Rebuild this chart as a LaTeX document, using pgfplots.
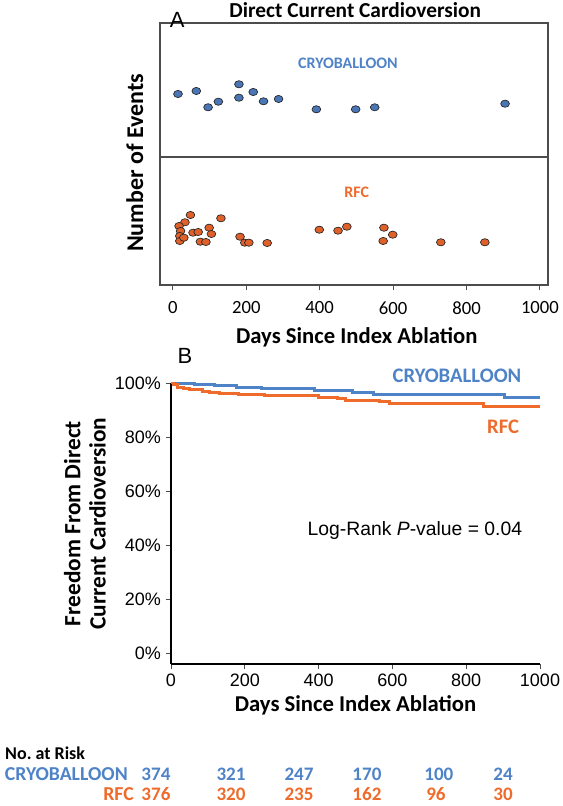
\documentclass[border=0pt]{standalone}
\usepackage{pgfplots}
\pgfplotsset{compat=1.18}
\usepackage{fontspec}
\setmainfont{Carlito}
\newfontfamily\arial{Liberation Sans}
\definecolor{cryo}{HTML}{4F83C8}
\definecolor{rfc}{HTML}{EE6B2C}
\definecolor{cryofill}{HTML}{4A76B6}
\definecolor{rfcfill}{HTML}{E0602A}
\tikzset{rc/.style={font=\bfseries\fontsize{14.3}{16}\selectfont, text=cryo, inner sep=0pt},
         rr/.style={font=\bfseries\fontsize{14.3}{16}\selectfont, text=rfc, inner sep=0pt}}
\begin{document}
\begin{tikzpicture}
\useasboundingbox (0,0) rectangle (422.25pt,604.5pt);
% ---------- Panel A ----------
\begin{axis}[
  at={(120pt,390.75pt)}, anchor=south west,
  scale only axis, width=291pt, height=196.5pt,
  xmin=-35, xmax=1022, ymin=0, ymax=262,
  axis line style={draw=black!70, line width=0.9pt},
  xtick={0,200,...,1000}, ytick=\empty,
  xtick pos=bottom, tick align=outside,
  major tick length=4pt,
  tick style={draw=black!70, line width=0.8pt},
  /pgf/number format/assume math mode=true,
  /pgf/number format/1000 sep={},
  xticklabel style={font=\fontsize{14}{16}\selectfont, yshift=-5pt},
  clip=false,
]
\draw[black!70, line width=0.9pt] (axis cs:-35,128) -- (axis cs:1022,128);
\addplot[only marks, mark=*, mark size=3pt,
  mark options={fill=cryofill, draw=black!85, line width=0.5pt, xscale=1.1, yscale=0.9}]
coordinates {
(14,191) (64,194) (96,177.7) (124,183.3) (180,200.7) (180,187.3) (219,193)
(247,183.7) (288,186) (391,175.7) (498,175.7) (550,177.7) (905,181.3)
};
\addplot[only marks, mark=*, mark size=3pt,
  mark options={fill=rfcfill, draw=black!85, line width=0.5pt, xscale=1.1, yscale=0.9}]
coordinates {
(48,70) (33,62.7) (131,66.7) (17,59) (21,54) (19,49) (19,44) (30,47.3)
(55,52.3) (69,53) (99,57.3) (105,51) (75,43.3) (90,43) (183,48.3)
(196,42.3) (207,42.3) (257,42) (399,55.3) (450,54.3) (474,58.3)
(575,57.3) (573,44) (599,50.3) (730,42.7) (850,42.7)
};
\node[font=\bfseries\fontsize{12}{14}\selectfont, text=cryo] at (axis cs:477,222) {CRYOBALLOON};
\node[font=\bfseries\fontsize{12}{14}\selectfont, text=rfc] at (axis cs:501,93) {RFC};
\node[font=\bfseries\fontsize{16}{18}\selectfont, inner sep=0pt] at (axis cs:497,275) {Direct Current Cardioversion};
\node[font=\arial\fontsize{16.5}{18}\selectfont] at (axis cs:12,265) {A};
\node[font=\bfseries\fontsize{17}{19}\selectfont, inner sep=0pt] at (axis cs:501,-52) {Days Since Index Ablation};
\node[font=\bfseries\fontsize{18}{20}\selectfont, inner sep=0pt, rotate=90] at (axis cs:-103.5,122) {Number of Events};
\end{axis}
% ---------- Panel B ----------
\begin{axis}[
  at={(128.25pt,106.5pt)}, anchor=south west,
  scale only axis, width=276.75pt, height=210.75pt,
  xmin=0, xmax=1000, ymin=-4, ymax=100,
  axis x line=bottom, axis y line=left,
  axis line style={-, line width=1.1pt, black},
  xtick={0,200,...,1000}, ytick={0,20,...,100},
  yticklabel={\pgfmathprintnumber{\tick}\%},
  tick align=outside, major tick length=4pt,
  tick style={line width=0.6pt, black!70},
  /pgf/number format/assume math mode=true,
  /pgf/number format/1000 sep={},
  ticklabel style={font=\arial\fontsize{13.5}{15}\selectfont},
  xlabel={Days Since Index Ablation},
  xlabel style={font=\bfseries\fontsize{17}{19}\selectfont},
  ylabel={Freedom From Direct\\Current Cardioversion},
  ylabel style={font=\bfseries\fontsize{17.5}{19}\selectfont, align=center},
  clip=false,
]
\addplot[const plot, draw=cryo, line width=2.2pt] coordinates {
(0,100) (14,99.8) (64,99.5) (118,99.0) (177,98.5) (245,97.8) (389,97.3)
(493,96.5) (548,95.9) (903,94.7) (1000,94.7)
};
\addplot[const plot, draw=rfc, line width=2.2pt] coordinates {
(0,100) (8,99.3) (18,98.5) (33,98.0) (49,97.5) (85,96.9) (105,96.4)
(131,96.1) (183,95.8) (254,95.2) (399,94.7) (450,94.1) (474,93.6)
(565,93.1) (592,92.4) (846,91.3) (1000,91.3)
};
\node[font=\bfseries\fontsize{15.5}{17}\selectfont, text=cryo] at (axis cs:775,102.6) {CRYOBALLOON};
\node[font=\bfseries\fontsize{15.5}{17}\selectfont, text=rfc] at (axis cs:900,83.8) {RFC};
\node[font=\arial\fontsize{14.5}{16}\selectfont] at (axis cs:661,45.4) {Log-Rank \textit{P}-value = 0.04};
\node[font=\arial\fontsize{16.5}{18}\selectfont] at (axis cs:38,110) {B};
% risk table
\node[font=\bfseries\fontsize{13.5}{15}\selectfont, anchor=west, inner sep=0pt] at (axis cs:-450,-37.0) {No.\ at Risk};
\node[rc, anchor=east, font=\bfseries\fontsize{14.8}{17}\selectfont] at (axis cs:-116.5,-44.8) {CRYOBALLOON};
\node[rr, anchor=east, font=\bfseries\fontsize{14.8}{17}\selectfont] at (axis cs:-100,-52.3) {RFC};
\node[rc] at (axis cs:-40.7,-44.8) {374};
\node[rc] at (axis cs:162.6,-44.8) {321};
\node[rc] at (axis cs:346.9,-44.8) {247};
\node[rc] at (axis cs:531,-44.8) {170};
\node[rc] at (axis cs:726,-44.8) {100};
\node[rc] at (axis cs:900,-44.8) {24};
\node[rr] at (axis cs:-40.7,-52.3) {376};
\node[rr] at (axis cs:162.6,-52.3) {320};
\node[rr] at (axis cs:346.9,-52.3) {235};
\node[rr] at (axis cs:531,-52.3) {162};
\node[rr] at (axis cs:718,-52.3) {96};
\node[rr] at (axis cs:900,-52.3) {30};
\end{axis}
\end{tikzpicture}
\end{document}
